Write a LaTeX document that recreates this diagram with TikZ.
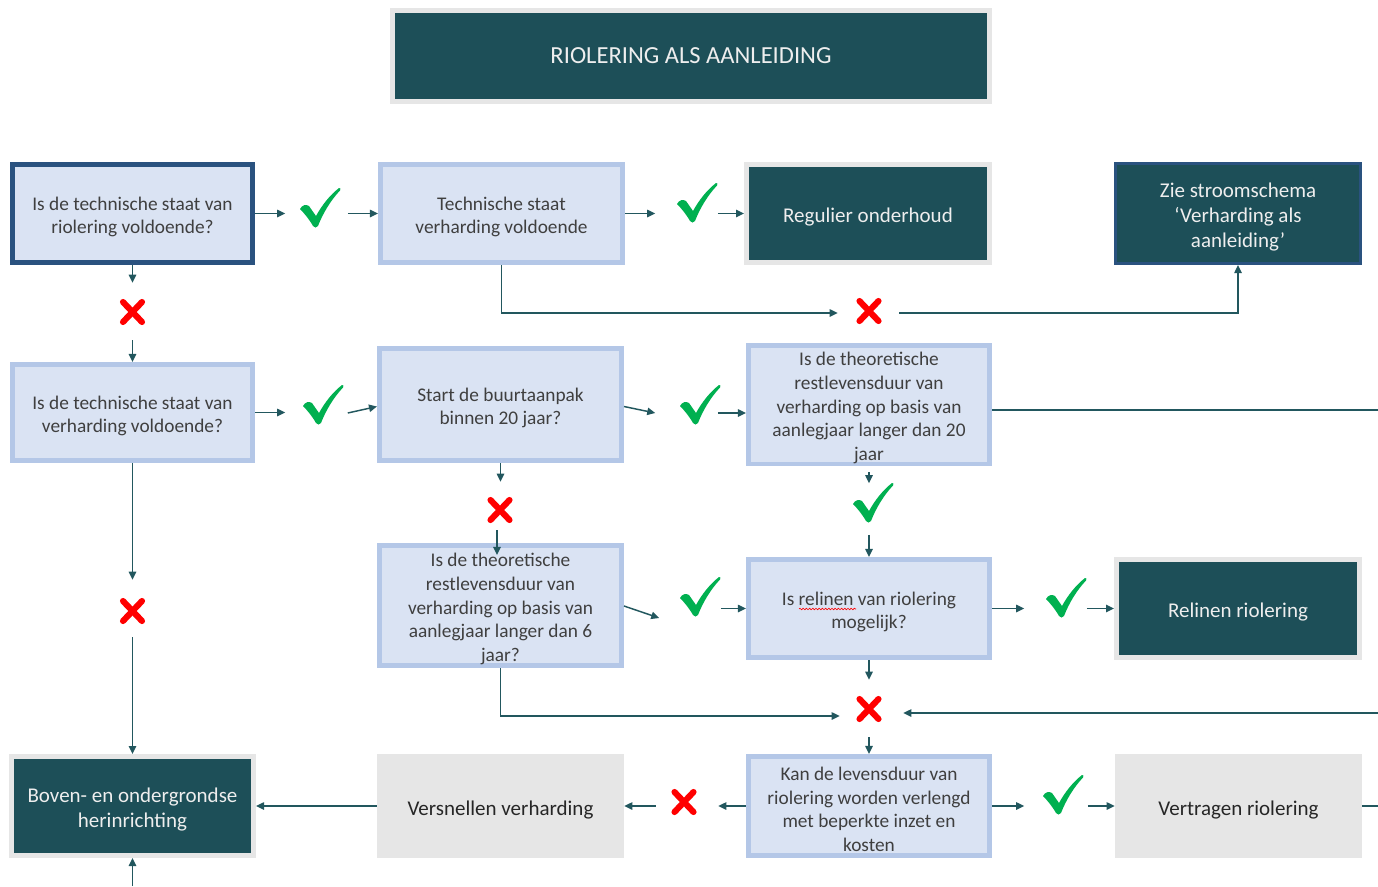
\documentclass[tikz,border=0pt]{standalone}
\usepackage{fontspec}
\setmainfont{Carlito}
\usetikzlibrary{arrows.meta,calc,decorations.pathmorphing}
\definecolor{dteal}{HTML}{1D4F58}
\definecolor{lfill}{HTML}{DAE3F3}
\definecolor{lborder}{HTML}{B4C7E7}
\definecolor{dborder}{HTML}{2A527F}
\definecolor{gframe}{HTML}{E6E6E6}
\definecolor{lnc}{HTML}{22575E}
\definecolor{ckg}{HTML}{00B050}
\definecolor{txg}{HTML}{3F3F3F}
\definecolor{txw}{HTML}{EEEEEE}
\definecolor{crossred}{HTML}{FF0000}
\newcommand{\tpad}{\rule{0pt}{1.05em}}
\begin{document}
\begin{tikzpicture}[x=0.75pt,y=-0.75pt,
  sz/.style 2 args={minimum width={(#1)*0.75pt}, minimum height={(#2)*0.75pt}},
  lbox/.style={draw=lborder, fill=lfill, line width=3.4pt, text=txg, align=center, inner sep=0pt,
    font=\fontsize{14.5}{17.8}\selectfont},
  dbox/.style={draw=gframe, fill=dteal, line width=3.75pt, text=txw, align=center, inner sep=0pt,
    font=\fontsize{15.75}{18.9}\selectfont},
  gbox/.style={fill=gframe, text=black!85, align=center, inner sep=0pt,
    font=\fontsize{15.75}{18.9}\selectfont},
  chkmk/.style={minimum width=30.75pt, minimum height=29.25pt, inner sep=0pt},
  crsmk/.style={minimum width=21pt, minimum height=21pt, inner sep=0pt},
  arr/.style={draw=lnc, line width=1.1pt, -{Triangle[length=6pt,width=5.5pt]}},
  ln/.style={draw=lnc, line width=1.1pt},
  chk/.pic={\fill[ckg] (-20,1) .. controls (-18,-3) and (-14,-4) .. (-11,-2)
      -- (-4,8) .. controls (2,-3) and (10,-13) .. (19,-20)
      .. controls (20.5,-20.5) and (21,-19) .. (20,-17.5)
      .. controls (11,-8) and (3,5) .. (-2,18)
      .. controls (-3,20) and (-6,20) .. (-7,18)
      .. controls (-11,11) and (-16,5) .. cycle;},
  crs/.pic={\draw[crossred, line width=4.6pt, line cap=round] (-9.5,-10) -- (9.5,10) (9.5,-10) -- (-9.5,10);}
]
\useasboundingbox (0,0) rectangle (1378,886);

% title
\node[dbox, sz={597}{91}, font=\fontsize{18.4}{22}\selectfont] (title) at (691,56) {RIOLERING ALS AANLEIDING};

% row 1
\node[lbox, draw=dborder, line width=3.75pt, sz={240}{98}] (b1) at (132.5,213.5) {\tpad Is de technische staat van\\riolering voldoende?};
\node[lbox, sz={242.5}{98.5}] (b2) at (501.5,213.5) {\tpad Technische staat\\verharding voldoende};
\node[dbox, sz={243}{98}] (b3) at (868,213.5) {\tpad Regulier onderhoud};
\node[dbox, draw=dborder, line width=2.25pt, sz={245}{100}] (b4) at (1238,213.5) {\tpad Zie stroomschema\\‘Verharding als\\aanleiding’};

% row 2
\node[lbox, sz={240.5}{96.5}] (c1) at (132.5,412.5) {\tpad Is de technische staat van\\verharding voldoende?};
\node[lbox, sz={242.5}{112.5}] (c2) at (500.5,404.5) {\tpad Start de buurtaanpak\\binnen 20 jaar?};
\node[lbox, sz={241.5}{112.5}] (c3) at (869,404.5) {\tpad Is de theoretische\\restlevensduur van\\verharding op basis van\\aanlegjaar langer dan 20\\jaar};

% row 3
\node[lbox, sz={242.5}{120.5}] (d1) at (500.5,605.5) {\tpad Is de theoretische\\restlevensduur van\\verharding op basis van\\aanlegjaar langer dan 6\\jaar?};
\node[lbox, sz={241.5}{98.5}] (d2) at (869,608.5) {\tpad Is relinen van riolering\\mogelijk?};
\node[dbox, sz={243}{98}] (d3) at (1238,608.5) {\tpad Relinen riolering};

% row 4
\node[dbox, sz={242}{99}] (e1) at (132.5,806) {\tpad Boven- en ondergrondse\\herinrichting};
\node[gbox, sz={247}{104}] (e2) at (500.5,806) {\tpad Versnellen verharding};
\node[lbox, sz={241.5}{99.5}] (e3) at (869,806) {\tpad Kan de levensduur van\\riolering worden verlengd\\met beperkte inzet en\\kosten};
\node[gbox, sz={247}{104}] (e4) at (1238.5,806) {\tpad Vertragen riolering};

% spell-check underline
\draw[crossred, line width=0.45pt, decorate, decoration={snake, amplitude=0.6pt, segment length=2.4pt}] (799,609) -- (856,609);

% markers
\node[chkmk] (k1) at (320,208) {}; \pic at (k1) {chk};
\node[chkmk] (k2) at (697,203) {}; \pic at (k2) {chk};
\node[chkmk] (k3) at (323,405) {}; \pic at (k3) {chk};
\node[chkmk] (k4) at (700,405) {}; \pic at (k4) {chk};
\node[chkmk] (k5) at (873,503) {}; \pic at (k5) {chk};
\node[chkmk] (k6) at (700,597) {}; \pic at (k6) {chk};
\node[chkmk] (k7) at (1066,598) {}; \pic at (k7) {chk};
\node[chkmk] (k8) at (1063,795) {}; \pic at (k8) {chk};

\node[crsmk] (x1) at (132.5,312) {}; \pic at (x1) {crs};
\node[crsmk] (x2) at (869,311) {}; \pic at (x2) {crs};
\node[crsmk] (x3) at (132.5,611) {}; \pic at (x3) {crs};
\node[crsmk] (x4) at (500,510) {}; \pic at (x4) {crs};
\node[crsmk] (x5) at (869,709) {}; \pic at (x5) {crs};
\node[crsmk] (x6) at (684,802) {}; \pic at (x6) {crs};

\coordinate (r1) at (1378,410);
\coordinate (r2) at (1378,713);
\coordinate (r3) at (1378,806);
\coordinate (bt) at (132.5,886);

% row 1 connectors
\draw[arr] (b1.east) -- ($(k1.west |- b1.east)+(-14,0)$);
\draw[arr] ($(k1.east |- b2.west)+(7,0)$) -- (b2.west);
\draw[arr] (b2.east) -- ($(k2.west |- b2.east)+(-21,0)$);
\draw[arr] (k2.east |- b3.west) -- (b3.west);
\draw[arr] (b1.south) -- ($(x1.north)+(0,-15)$);
\draw[arr] ($(x1.south)+(0,14)$) -- (c1.north);
\draw[arr] (b2.south) |- ($(x2.west)+(-17,2)$);
\draw[arr] ($(x2.east)+(16,2)$) -| (b4.south);

% row 2 connectors
\draw[arr] (c1.east) -- ($(k3.west |- c1.east)+(-17,0)$);
\draw[arr] ($(k3.east)+(4,8)$) -- ($(c2.west)+(0,2)$);
\draw[arr] ($(c2.east)+(0,2)$) -- ($(k4.west)+(-24,8)$);
\draw[arr] ($(k4.east)+(-3,8)$) -- ($(c3.west)+(0,8.5)$);
\draw[ln] ($(c3.east)+(0,5.5)$) -- (r1);
\draw[arr] ($(c3.south)+(0,6)$) -- (c3.south |- k5.north);
\draw[arr] ($(k5.south -| d2.north)+(0,12)$) -- (d2.north);
\draw[arr] (c2.south) -- ($(c2.south |- x4.north)+(0,-14)$);
\draw[arr] (c1.south) -- ($(x3.north)+(0,-17)$);
\draw[arr] ($(x3.south)+(0,12)$) -- (e1.north);

% row 3 connectors
\draw[arr] ($(d1.east)+(0,0.5)$) -- ($(k6.west)+(-20,21)$);
\draw[arr] (k6.east |- d2.west) -- (d2.west);
\draw[arr] (d2.east) -- ($(k7.west |- d2.east)+(-21,0)$);
\draw[arr] (k7.east |- d3.west) -- (d3.west);
\draw[arr] (d2.south) -- ($(x5.north)+(0,-15)$);
\draw[arr] ($(x5.south)+(0,14)$) -- (e3.north);
\draw[arr] (d1.south) |- ($(x5.west)+(-15,7)$);
\draw[arr] (r2) -- ($(x5.east |- r2)+(20,0)$);

% row 4 connectors
\draw[arr] (e3.west) -- ($(x6.east |- e3.west)+(20,0)$);
\draw[arr] ($(x6.west |- e2.east)+(-14,0)$) -- (e2.east);
\draw[arr] (e2.west) -- (e1.east);
\draw[arr] (e3.east) -- ($(k8.west |- e3.east)+(-18,0)$);
\draw[arr] ($(k8.east |- e4.west)+(4,0)$) -- (e4.west);
\draw[ln] (e4.east) -- (r3);
\draw[arr] (bt) -- (e1.south);

% arrow entering the lower-left question box
\draw[arr] ($(x4.south)+(-3,6)$) -- ($(d1.north)+(-3.5,12)$);
\end{tikzpicture}
\end{document}
